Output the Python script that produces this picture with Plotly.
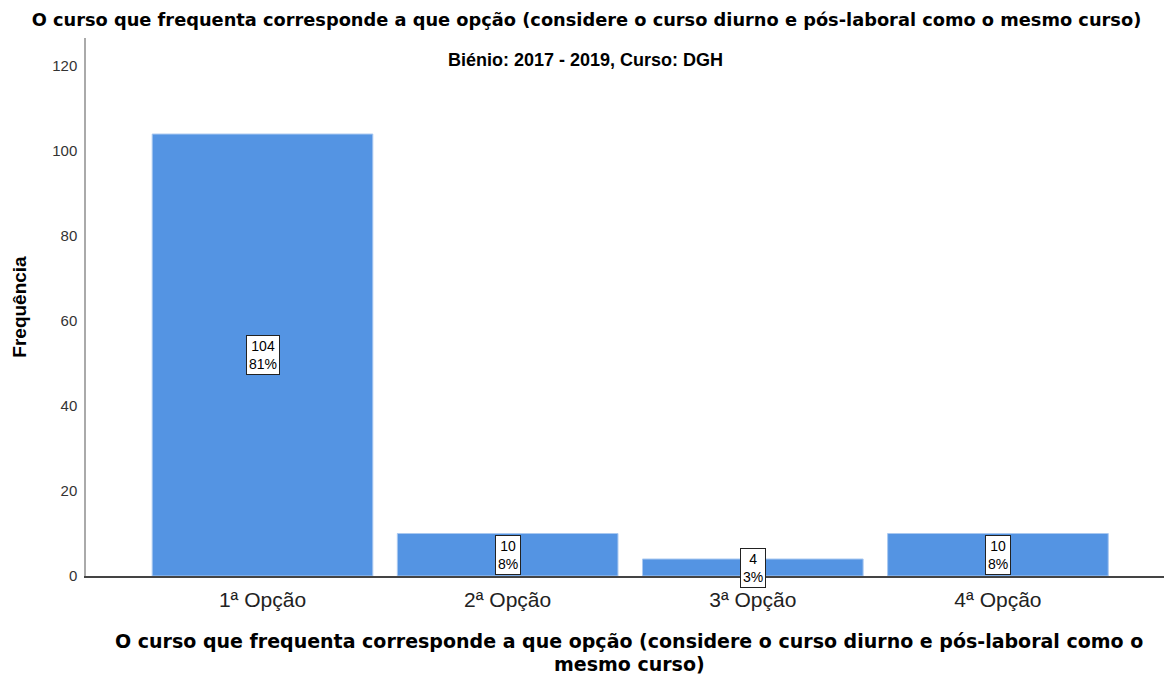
import plotly.graph_objects as go

categories = ["1ª Opção", "2ª Opção", "3ª Opção", "4ª Opção"]
frequencies = [104, 10, 4, 10]
percent_labels = ["81%", "8%", "3%", "8%"]
y_ticks = [0, 20, 40, 60, 80, 100, 120]
x_title_lines = [
    "O curso que frequenta corresponde a que opção (considere o curso diurno e pós-laboral como o",
    "mesmo curso)",
]

TITLE_FONT = "DejaVu Sans"

fig = go.Figure()
fig.add_trace(go.Bar(
    x=categories, y=frequencies,
    marker=dict(color="#5494e3", line=dict(color="#a9c8f0", width=1)),
    width=0.9, hoverinfo="skip",
))

for c, v, p in zip(categories, frequencies, percent_labels):
    fig.add_annotation(
        x=c, y=v / 2, text=f"{v}<br>{p}", showarrow=False,
        font=dict(family="Arial", size=14, color="black"),
        bgcolor="white", bordercolor="#222", borderwidth=1, borderpad=2,
        xanchor="center", yanchor="middle",
    )

fig.add_annotation(
    x=0.4595, y=1.0, xref="paper", yref="paper", yshift=-22,
    text="<b>Biénio: 2017 - 2019, Curso: DGH</b>", showarrow=False,
    font=dict(family="Arial", size=18, color="black"),
    xanchor="center", yanchor="middle",
)

for i, line in enumerate(x_title_lines):
    fig.add_annotation(
        x=0.5, y=0, xref="paper", yref="paper", yshift=-65 - 23 * i,
        text=f"<b>{line}</b>", showarrow=False,
        font=dict(family=TITLE_FONT, size=19, color="black"),
        xanchor="center", yanchor="middle",
    )

fig.update_layout(
    width=1164, height=671,
    paper_bgcolor="white", plot_bgcolor="white",
    margin=dict(l=78, r=0, t=30, b=103),
    showlegend=False,
    title=dict(
        text="<b>O curso que frequenta corresponde a que opção (considere o curso diurno e pós-laboral como o mesmo curso)</b>",
        x=0.497, xanchor="center", y=0.982, yref="container", yanchor="middle",
        font=dict(family=TITLE_FONT, size=17.8, color="black"),
    ),
    font=dict(family="Arial"),
)

fig.update_xaxes(
    range=[-0.72, 3.71], showline=True, linecolor="#444", linewidth=1.5,
    ticks="", showgrid=False,
    tickfont=dict(family="Arial", size=21, color="#222"),
    ticklabelstandoff=4,
)
fig.update_yaxes(
    range=[0, 126.6], tickvals=y_ticks, showline=True, linecolor="#aaaaaa", linewidth=1.5,
    ticks="", showgrid=False, zeroline=False,
    tickfont=dict(family="Arial", size=15, color="#333"),
    ticklabelstandoff=4,
    title=dict(text="<b>Frequência</b>", font=dict(family="Arial", size=19, color="black"), standoff=21),
)

fig.write_html("out.html")
